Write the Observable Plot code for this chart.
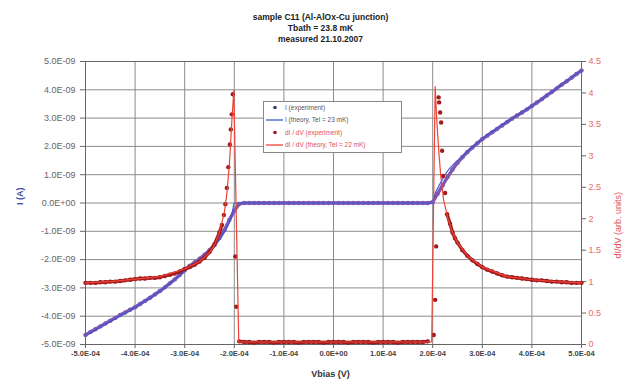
<!DOCTYPE html>
<html><head><meta charset="utf-8">
<script src="https://cdn.jsdelivr.net/npm/d3@7"></script>
<script src="https://cdn.jsdelivr.net/npm/@observablehq/plot@0.6"></script>
<style>
html,body{margin:0;padding:0;background:#fff;}
#wrap{position:relative;width:634px;height:381px;}
#legend{position:absolute;left:263px;top:101px;}
</style></head><body><div id="wrap"></div>
<script>
// ---------- text ----------
const titleLines = ["sample C11 (Al-AlOx-Cu junction)", "Tbath = 23.8 mK", "measured 21.10.2007"];
const xAxisTitle = "Vbias (V)";
const yLeftTitle = "I (A)";
const yRightTitle = "dI/dV (arb. units)";
const legendLabels = ["I (experiment)", "I (theory, Tel = 23 mK)", "dI / dV (experiment)", "dI / dV (theory, Tel = 22 mK)"];

// ---------- ticks ----------
const xTickValues = [-5e-4, -4e-4, -3e-4, -2e-4, -1e-4, 0, 1e-4, 2e-4, 3e-4, 4e-4, 5e-4];
const xTickLabels = ["-5.0E-04", "-4.0E-04", "-3.0E-04", "-2.0E-04", "-1.0E-04", "0.0E+00", "1.0E-04", "2.0E-04", "3.0E-04", "4.0E-04", "5.0E-04"];
const yTickValues = [5, 4, 3, 2, 1, 0, -1, -2, -3, -4, -5];            // in units of 1E-9 A
const yTickLabels = ["5.0E-09", "4.0E-09", "3.0E-09", "2.0E-09", "1.0E-09", "0.0E+00", "-1.0E-09", "-2.0E-09", "-3.0E-09", "-4.0E-09", "-5.0E-09"];
const gTickValues = [4.5, 4, 3.5, 3, 2.5, 2, 1.5, 1, 0.5, 0];
const gTickLabels = ["4.5", "4", "3.5", "3", "2.5", "2", "1.5", "1", "0.5", "0"];

// ---------- data (V in units of 1E-4 V) ----------
// I experiment (units of 1E-9 A)
const iExpV = [-5.0,-4.9,-4.8,-4.7,-4.6,-4.5,-4.4,-4.3,-4.2,-4.1,-4.0,-3.9,-3.8,-3.7,-3.6,-3.5,-3.4,-3.3,-3.2,-3.1,-3.0,-2.9,-2.8,-2.7,-2.6,-2.5,-2.4,-2.3,-2.2,-2.1,-2.0,-1.9,-1.8,-1.7,-1.6,-1.5,-1.4,-1.3,-1.2,-1.1,-1.0,-0.9,-0.8,-0.7,-0.6,-0.5,-0.4,-0.3,-0.2,-0.1,0.0,0.1,0.2,0.3,0.4,0.5,0.6,0.7,0.8,0.9,1.0,1.1,1.2,1.3,1.4,1.5,1.6,1.7,1.8,1.9,2.0,2.1,2.2,2.3,2.4,2.5,2.6,2.7,2.8,2.9,3.0,3.1,3.2,3.3,3.4,3.5,3.6,3.7,3.8,3.9,4.0,4.1,4.2,4.3,4.4,4.5,4.6,4.7,4.8,4.9,5.0];
const iExpI = [-4.66,-4.56,-4.46,-4.36,-4.26,-4.16,-4.06,-3.96,-3.87,-3.77,-3.68,-3.57,-3.46,-3.35,-3.23,-3.11,-2.98,-2.84,-2.70,-2.54,-2.38,-2.22,-2.10,-1.97,-1.83,-1.67,-1.48,-1.24,-0.96,-0.60,-0.27,-0.03,0,0,0,0,0,0,0,0,0,0,0,0,0,0,0,0,0,0,0,0,0,0,0,0,0,0,0,0,0,0,0,0,0,0,0,0,0,0,0.03,0.33,0.62,0.92,1.18,1.42,1.62,1.80,1.96,2.11,2.26,2.38,2.50,2.62,2.74,2.86,2.98,3.09,3.20,3.31,3.43,3.55,3.67,3.80,3.92,4.05,4.18,4.30,4.43,4.56,4.68];

// I theory (units of 1E-9 A)
const iThV = [-5.0,-4.5,-4.0,-3.5,-3.0,-2.8,-2.6,-2.4,-2.3,-2.2,-2.1,-2.05,-2.0,2.0,2.05,2.1,2.15,2.2,2.3,2.4,2.6,2.8,3.0,3.5,4.0,4.5,5.0];
const iThI = [-4.68,-4.18,-3.69,-3.12,-2.40,-2.12,-1.85,-1.50,-1.29,-1.02,-0.68,-0.42,0,0,0.35,0.52,0.69,0.85,1.13,1.33,1.66,1.98,2.27,2.87,3.43,4.05,4.68];

// dI/dV experiment (arb. units)
const gExpV = [-5.0,-4.9,-4.8,-4.7,-4.6,-4.5,-4.4,-4.3,-4.2,-4.1,-4.0,-3.9,-3.8,-3.7,-3.6,-3.5,-3.4,-3.3,-3.2,-3.1,-3.0,-2.9,-2.8,-2.7,-2.6,-2.5,-2.4,-2.3,-2.25,-2.21,-2.18,-2.15,-2.12,-2.09,-2.07,-2.05,-2.03,-1.98,-1.96,-1.9,-1.8,-1.7,-1.6,-1.5,-1.4,-1.3,-1.2,-1.1,-1.0,-0.9,-0.8,-0.7,-0.6,-0.5,-0.4,-0.3,-0.2,-0.1,0.0,0.1,0.2,0.3,0.4,0.5,0.6,0.7,0.8,0.9,1.0,1.1,1.2,1.3,1.4,1.5,1.6,1.7,1.8,1.9,2.02,2.05,2.07,2.12,2.13,2.15,2.17,2.19,2.21,2.25,2.29,2.35,2.4,2.45,2.5,2.6,2.7,2.8,2.9,3.0,3.1,3.2,3.3,3.4,3.5,3.6,3.7,3.8,3.9,4.0,4.1,4.2,4.3,4.4,4.5,4.6,4.7,4.8,4.9,5.0];
const gExpG = [0.98,0.98,0.98,0.99,0.99,1.00,1.00,1.01,1.02,1.03,1.04,1.05,1.05,1.06,1.06,1.07,1.09,1.11,1.13,1.16,1.20,1.23,1.27,1.32,1.38,1.47,1.59,1.78,1.90,2.06,2.23,2.49,2.82,3.18,3.42,3.66,3.98,1.40,0.60,0.05,0.04,0.04,0.03,0.04,0.04,0.04,0.03,0.04,0.04,0.04,0.04,0.03,0.04,0.04,0.04,0.04,0.03,0.04,0.04,0.04,0.04,0.03,0.04,0.04,0.04,0.04,0.03,0.04,0.04,0.04,0.04,0.03,0.04,0.04,0.04,0.04,0.04,0.05,0.15,0.71,1.56,3.93,3.85,3.69,3.53,3.08,2.68,2.41,2.07,1.92,1.78,1.69,1.62,1.50,1.41,1.34,1.28,1.23,1.19,1.16,1.13,1.10,1.08,1.07,1.06,1.05,1.04,1.03,1.02,1.02,1.01,1.00,1.00,0.99,0.99,0.98,0.98,0.98];

// dI/dV theory (arb. units)
const gThV = [-5.0,-4.5,-4.0,-3.5,-3.0,-2.7,-2.5,-2.4,-2.3,-2.2,-2.15,-2.1,-2.05,-2.01,-1.91,1.98,2.05,2.08,2.12,2.16,2.22,2.3,2.4,2.5,2.7,3.0,3.5,4.0,4.5,5.0];
const gThG = [0.98,1.00,1.04,1.08,1.20,1.32,1.46,1.58,1.78,2.10,2.40,2.85,3.55,4.04,0.04,0.04,4.10,3.60,3.10,2.70,2.30,2.02,1.78,1.62,1.41,1.23,1.08,1.03,1.00,0.98];

// ---------- build ----------
const gToY = g => g / 4.5 * 10 - 5;   // right axis (0..4.5) onto left axis (-5..5)
const gTickPos = gTickValues.map(gToY);
const iExp = iExpV.map((v, i) => ({V: v * 1e-4, I: iExpI[i]}));
const iTh = iThV.map((v, i) => ({V: v * 1e-4, I: iThI[i]}));
const gExp = gExpV.map((v, i) => ({V: v * 1e-4, Y: gToY(gExpG[i]),
  seg: v <= -2.25 ? "L" : v >= 2.29 ? "R" : (v > -1.95 && v < 1.95) ? "M" : null}));
const gTh = gThV.map((v, i) => ({V: v * 1e-4, Y: gToY(gThG[i])}));

const colIexp = "#8256b2", colIth = "#3c58d0", colGexp = "#a11a1e", colGth = "#ee4436";
const fontFam = "'Liberation Sans', Arial, sans-serif";

const chart = Plot.plot({
  width: 634, height: 381,
  marginLeft: 85, marginRight: 53, marginTop: 61, marginBottom: 37,
  style: {fontFamily: fontFam, background: "#fff", overflow: "visible"},
  x: {domain: [-5e-4, 5e-4]},
  y: {domain: [-5, 5]},
  marks: [
    Plot.gridX(xTickValues, {stroke: "#8c8c8c", strokeOpacity: 1}),
    Plot.gridY(yTickValues, {stroke: "#8c8c8c", strokeOpacity: 1}),
    Plot.frame({stroke: "#666"}),
    Plot.axisX(xTickValues, {tickFormat: d => xTickLabels[xTickValues.indexOf(d)], tickSize: 4, tickPadding: 2,
      fontSize: 7.5, fontWeight: "bold", stroke: "#666", fill: "#444", label: null}),
    Plot.axisY(yTickValues, {anchor: "left", tickFormat: d => yTickLabels[yTickValues.indexOf(d)], tickSize: 5, tickPadding: 5,
      fontSize: 9, stroke: "#666", fill: "#666", label: null}),
    Plot.axisY(gTickPos, {anchor: "right", tickFormat: d => gTickLabels[gTickPos.indexOf(d)],
      tickSize: 4, tickPadding: 3, fontSize: 9, stroke: "#666", fill: "#e56a6a", label: null}),
    // series (Excel order)
    Plot.line(iExp, {x: "V", y: "I", stroke: colIexp, strokeWidth: 3.4}),
    Plot.dot(iExp, {x: "V", y: "I", r: 2.2, fill: colIexp, stroke: "none"}),
    Plot.line(iTh, {x: "V", y: "I", stroke: colIth, strokeWidth: 1.2, curve: "monotone-x"}),
    Plot.line(gExp.filter(d => d.seg), {x: "V", y: "Y", z: "seg", stroke: colGexp, strokeWidth: 3.4}),
    Plot.dot(gExp, {x: "V", y: "Y", r: 2.2, fill: colGexp, stroke: "none"}),
    Plot.line(gTh, {x: "V", y: "Y", stroke: colGth, strokeWidth: 1.2}),
    // titles
    Plot.text([titleLines[0]], {frameAnchor: "top", text: d => d, dx: -13, dy: -48, fontSize: 8.5, fontWeight: "bold", fill: "#222"}),
    Plot.text([titleLines[1]], {frameAnchor: "top", text: d => d, dx: -13, dy: -37, fontSize: 8.5, fontWeight: "bold", fill: "#222"}),
    Plot.text([titleLines[2]], {frameAnchor: "top", text: d => d, dx: -13, dy: -26, fontSize: 8.5, fontWeight: "bold", fill: "#222"}),
    Plot.text([xAxisTitle], {frameAnchor: "bottom", text: d => d, dx: -3, dy: 32, fontSize: 9, fontWeight: "bold", fill: "#333"}),
    Plot.text([yLeftTitle], {frameAnchor: "left", text: d => d, dx: -65, dy: 2, rotate: -90, fontSize: 9, fontWeight: "bold", fill: "#3a4ea8"}),
    Plot.text([yRightTitle], {frameAnchor: "right", text: d => d, dx: 37, dy: -11, rotate: -90, fontSize: 9, fill: "#e25555"})
  ]
});
const wrap = document.getElementById("wrap");
wrap.appendChild(chart);

// ---------- legend ----------
const lg = d3.select(wrap).append("svg").attr("id", "legend").attr("width", 140).attr("height", 53)
  .style("font-family", fontFam);
lg.append("rect").attr("x", 0.5).attr("y", 0.5).attr("width", 138).attr("height", 51)
  .attr("fill", "#fff").attr("stroke", "#888");
const kinds = [
  {type: "dot", color: "#3a3a70", text: "#555"},
  {type: "line", color: colIth, text: "#555"},
  {type: "dot", color: colGexp, text: "#e05050"},
  {type: "line", color: colGth, text: "#e05050"}
];
legendLabels.forEach((lab, i) => {
  const y = 6.5 + i * 12.5, k = kinds[i];
  if (k.type === "dot") lg.append("circle").attr("cx", 12).attr("cy", y).attr("r", 1.8).attr("fill", k.color);
  else lg.append("line").attr("x1", 3).attr("x2", 20).attr("y1", y).attr("y2", y).attr("stroke", k.color).attr("stroke-width", 1.3);
  lg.append("text").attr("x", 22).attr("y", y).attr("dy", "0.35em").attr("font-size", 6.5).attr("fill", k.text).text(lab);
});
</script></body></html>
